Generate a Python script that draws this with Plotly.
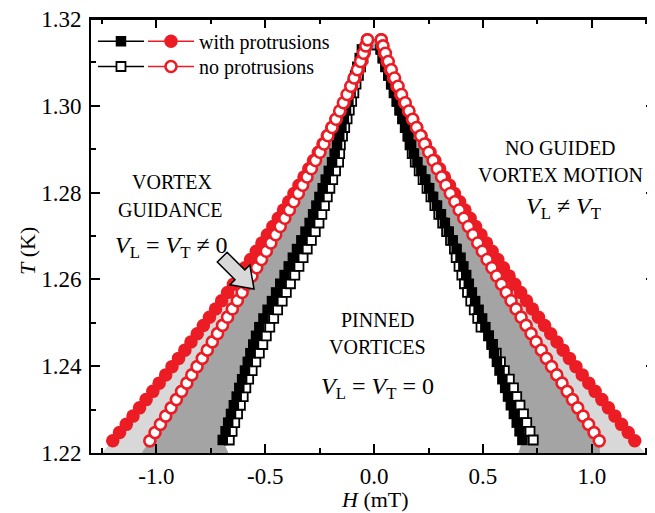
import plotly.graph_objects as go

# ---------------- data ----------------
T_red = [1.2228, 1.2247, 1.2266, 1.2285, 1.2304, 1.2323, 1.2342, 1.2361, 1.2380, 1.2399,
         1.2418, 1.2437, 1.2456, 1.2475, 1.2494, 1.2513, 1.2532, 1.2551, 1.2570, 1.2589,
         1.2608, 1.2627, 1.2646, 1.2665, 1.2684, 1.2703, 1.2722, 1.2741, 1.2760, 1.2779,
         1.2798, 1.2817, 1.2836, 1.2855, 1.2874, 1.2893, 1.2912, 1.2931, 1.2950, 1.2969,
         1.2988, 1.3007, 1.3026, 1.3045, 1.3064, 1.3083, 1.3102, 1.3121, 1.3138, 1.3152]

H_with_red_left = [-1.200, -1.169, -1.138, -1.107, -1.077, -1.047, -1.016, -0.987, -0.957, -0.928,
                   -0.898, -0.869, -0.841, -0.812, -0.784, -0.756, -0.728, -0.700, -0.673, -0.646,
                   -0.619, -0.593, -0.567, -0.541, -0.515, -0.490, -0.465, -0.440, -0.416, -0.392,
                   -0.368, -0.345, -0.322, -0.300, -0.278, -0.256, -0.235, -0.215, -0.194, -0.175,
                   -0.156, -0.138, -0.120, -0.103, -0.087, -0.072, -0.058, -0.046, -0.037, -0.031]
H_with_red_right = [1.197, 1.167, 1.136, 1.106, 1.076, 1.046, 1.015, 0.986, 0.956, 0.927,
                    0.897, 0.868, 0.840, 0.811, 0.783, 0.755, 0.727, 0.700, 0.673, 0.646,
                    0.620, 0.594, 0.568, 0.542, 0.516, 0.491, 0.466, 0.441, 0.417, 0.393,
                    0.369, 0.346, 0.323, 0.301, 0.279, 0.257, 0.236, 0.216, 0.196, 0.177,
                    0.158, 0.140, 0.122, 0.105, 0.089, 0.074, 0.060, 0.048, 0.039, 0.033]
H_no_red_left = [-1.030, -1.006, -0.981, -0.957, -0.932, -0.908, -0.884, -0.860, -0.837, -0.813,
                 -0.789, -0.766, -0.743, -0.719, -0.696, -0.673, -0.651, -0.628, -0.606, -0.583,
                 -0.561, -0.539, -0.517, -0.495, -0.474, -0.452, -0.431, -0.410, -0.389, -0.369,
                 -0.348, -0.328, -0.308, -0.288, -0.269, -0.249, -0.230, -0.212, -0.193, -0.175,
                 -0.158, -0.141, -0.124, -0.107, -0.092, -0.077, -0.062, -0.049, -0.038, -0.030]
H_no_red_right = [1.034, 1.010, 0.985, 0.960, 0.935, 0.911, 0.887, 0.863, 0.839, 0.815,
                  0.791, 0.768, 0.744, 0.721, 0.698, 0.675, 0.652, 0.629, 0.607, 0.585,
                  0.563, 0.541, 0.519, 0.497, 0.476, 0.454, 0.433, 0.412, 0.391, 0.371,
                  0.350, 0.330, 0.310, 0.290, 0.271, 0.251, 0.232, 0.214, 0.195, 0.177,
                  0.160, 0.143, 0.126, 0.110, 0.094, 0.079, 0.065, 0.052, 0.041, 0.033]

T_black = [1.223, 1.225, 1.227, 1.229, 1.231, 1.233, 1.235, 1.237, 1.239, 1.241,
           1.243, 1.245, 1.247, 1.249, 1.251, 1.253, 1.255, 1.257, 1.259, 1.261,
           1.263, 1.265, 1.267, 1.269, 1.271, 1.273, 1.275, 1.277, 1.279, 1.281,
           1.283, 1.285, 1.287, 1.289, 1.291, 1.293, 1.295, 1.297, 1.299, 1.301,
           1.303, 1.305, 1.307, 1.309, 1.311, 1.313]
H_with_blk_left = [-0.695, -0.682, -0.670, -0.657, -0.644, -0.631, -0.619, -0.606, -0.593, -0.580,
                   -0.568, -0.555, -0.542, -0.527, -0.508, -0.489, -0.469, -0.450, -0.431, -0.411,
                   -0.392, -0.373, -0.354, -0.334, -0.315, -0.296, -0.280, -0.265, -0.251, -0.236,
                   -0.222, -0.208, -0.193, -0.181, -0.170, -0.160, -0.150, -0.139, -0.129, -0.118,
                   -0.108, -0.098, -0.087, -0.077, -0.066, -0.056]
H_with_blk_right = [0.681, 0.668, 0.655, 0.642, 0.628, 0.615, 0.602, 0.589, 0.576, 0.564,
                    0.551, 0.539, 0.526, 0.511, 0.496, 0.480, 0.464, 0.449, 0.435, 0.423,
                    0.410, 0.397, 0.379, 0.361, 0.343, 0.325, 0.307, 0.289, 0.271, 0.253,
                    0.235, 0.217, 0.199, 0.183, 0.170, 0.157, 0.144, 0.131, 0.118, 0.105,
                    0.092, 0.079, 0.066, 0.053, 0.040, 0.030]
H_no_blk_left = [-0.665, -0.652, -0.640, -0.627, -0.614, -0.601, -0.589, -0.576, -0.560, -0.543,
                 -0.527, -0.511, -0.495, -0.479, -0.461, -0.443, -0.422, -0.403, -0.384, -0.364,
                 -0.345, -0.326, -0.307, -0.288, -0.270, -0.253, -0.240, -0.228, -0.215, -0.203,
                 -0.190, -0.177, -0.163, -0.158, -0.155, -0.145, -0.135, -0.124, -0.114, -0.103,
                 -0.093, -0.083, -0.072, -0.062, -0.051, -0.041]
H_no_blk_right = [0.731, 0.716, 0.701, 0.686, 0.670, 0.655, 0.640, 0.621, 0.598, 0.580,
                  0.561, 0.544, 0.526, 0.491, 0.476, 0.460, 0.444, 0.429, 0.415, 0.403,
                  0.390, 0.377, 0.369, 0.351, 0.333, 0.315, 0.297, 0.279, 0.261, 0.243,
                  0.225, 0.207, 0.189, 0.175, 0.165, 0.155, 0.143, 0.131, 0.118, 0.105,
                  0.092, 0.079, 0.066, 0.053, 0.041, 0.032]

# where the shaded regions meet T = 1.22 (left, right)
T_floor = 1.22
light_edge = [-1.250, 1.244]
dark_edge = [-1.067, 1.038]
pinned_edge = [-0.669, 0.663]

x_tickvals = [-1.0, -0.5, 0.0, 0.5, 1.0]
x_ticktext = ["-1.0", "-0.5", "0.0", "0.5", "1.0"]
x_minor = [-1.25, -0.75, -0.25, 0.25, 0.75, 1.25]
y_tickvals = [1.22, 1.24, 1.26, 1.28, 1.30, 1.32]
y_ticktext = ["1.22", "1.24", "1.26", "1.28", "1.30", "1.32"]
y_minor = [1.23, 1.25, 1.27, 1.29, 1.31]

# ---------------- styling ----------------
RED = "#ec1c24"
FONT = "Liberation Serif"


def loop(h_left, h_right, t):
    return h_left + h_right[::-1], t + t[::-1]


def region(h_left, h_right, t, edge, color):
    xs, ys = loop(h_left, h_right, t)
    return go.Scatter(x=[edge[0]] + xs + [edge[1]], y=[T_floor] + ys + [T_floor],
                      mode="lines", fill="toself", fillcolor=color,
                      line=dict(width=0), showlegend=False, hoverinfo="skip")


fig = go.Figure()
fig.add_trace(region(H_with_red_left, H_with_red_right, T_red, light_edge, "#d8d8d8"))
fig.add_trace(region(H_no_red_left, H_no_red_right, T_red, dark_edge, "#a4a4a4"))
fig.add_trace(region(H_with_blk_left, H_with_blk_right, T_black, pinned_edge, "white"))

xs, ys = loop(H_no_blk_left, H_no_blk_right, T_black)
fig.add_trace(go.Scatter(x=xs, y=ys, mode="lines+markers", name=" ", legend="legend3",
                         line=dict(color="black", width=1.5),
                         marker=dict(symbol="square", size=9, color="white",
                                     line=dict(color="black", width=1.8))))
xs, ys = loop(H_with_blk_left, H_with_blk_right, T_black)
fig.add_trace(go.Scatter(x=xs, y=ys, mode="lines+markers", name=" ", legend="legend",
                         line=dict(color="black", width=1.5),
                         marker=dict(symbol="square", size=10.5, color="black",
                                     line=dict(width=0))))
xs, ys = loop(H_with_red_left, H_with_red_right, T_red)
fig.add_trace(go.Scatter(x=xs, y=ys, mode="lines+markers", name="with protrusions",
                         legend="legend2",
                         line=dict(color=RED, width=1.5),
                         marker=dict(symbol="circle", size=13.5, color=RED,
                                     line=dict(width=0))))
xs, ys = loop(H_no_red_left, H_no_red_right, T_red)
fig.add_trace(go.Scatter(x=xs, y=ys, mode="lines+markers", name="no protrusions",
                         legend="legend4",
                         line=dict(color=RED, width=1.5),
                         marker=dict(symbol="circle", size=11, color="white",
                                     line=dict(color=RED, width=2.6))))
# carrier for the right-hand tick axis
fig.add_trace(go.Scatter(x=[], y=[], yaxis="y2", showlegend=False, hoverinfo="skip"))

tickfont = dict(family=FONT, size=23, color="black")
legfont = dict(family=FONT, size=20, color="black")


def legend_box(x, y):
    return dict(x=x, y=y, xanchor="left", yanchor="top", bgcolor="rgba(0,0,0,0)",
                borderwidth=0, font=legfont, itemwidth=46, tracegroupgap=0)


minor_ticks = dict(ticks="inside", ticklen=5, tickwidth=1.6, tickcolor="black", showgrid=False)

# the page body has an 8 px margin, so the figure is 8 px smaller than the window
fig.update_layout(
    template="none",
    width=647, height=505, autosize=False,
    margin=dict(l=83, r=0, t=11, b=60, pad=0),
    paper_bgcolor="white", plot_bgcolor="white",
    font=dict(family=FONT, color="black"),
    xaxis=dict(range=[-1.30, 1.29], tickmode="array", tickvals=x_tickvals, ticktext=x_ticktext,
               ticks="inside", ticklen=9, tickwidth=1.6, tickcolor="black",
               showline=True, linecolor="black", linewidth=1.8, mirror="ticks",
               showgrid=False, zeroline=False, tickfont=tickfont, automargin=False,
               ticklabelstandoff=1, ticklabeloverflow="allow",
               minor=dict(tickmode="array", tickvals=x_minor, **minor_ticks)),
    yaxis=dict(range=[1.22, 1.32], tickmode="array", tickvals=y_tickvals, ticktext=y_ticktext,
               ticks="inside", ticklen=9, tickwidth=1.6, tickcolor="black",
               showline=True, linecolor="black", linewidth=1.8, mirror=False,
               showgrid=False, zeroline=False, tickfont=tickfont, automargin=False,
               ticklabelstandoff=3, ticklabeloverflow="allow",
               minor=dict(tickmode="array", tickvals=y_minor, **minor_ticks)),
    yaxis2=dict(range=[1.22, 1.32], overlaying="y", side="right", anchor="x",
                tickmode="array", tickvals=y_tickvals, showticklabels=False,
                ticks="inside", ticklen=9, tickwidth=1.6, tickcolor="black",
                showline=False, showgrid=False, zeroline=False, automargin=False,
                minor=dict(tickmode="array", tickvals=y_minor, **minor_ticks)),
    legend=legend_box(0.0035, 0.9935),
    legend2=legend_box(0.0922, 0.9935),
    legend3=legend_box(0.0035, 0.9355),
    legend4=legend_box(0.0922, 0.9355),
)


def label(text, x, y, size=20, **kw):
    fig.add_annotation(text=text, x=x, y=y, xref="paper", yref="paper", showarrow=False,
                       xanchor="center", yanchor="middle",
                       font=dict(family=FONT, size=size, color="black"), **kw)


label("VORTEX", 0.1436, 0.6244)
label("GUIDANCE", 0.1401, 0.5599)
label("<i>V</i><sub>L</sub> = <i>V</i><sub>T</sub> ≠ 0", 0.1436, 0.475, size=24)
label("PINNED", 0.5071, 0.3065)
label("VORTICES", 0.5071, 0.2442)
label("<i>V</i><sub>L</sub> = <i>V</i><sub>T</sub> = 0", 0.5071, 0.150, size=24)
label("NO GUIDED", 0.8333, 0.7028)
label("VORTEX MOTION", 0.8333, 0.6406)
label("<i>V</i><sub>L</sub> ≠ <i>V</i><sub>T</sub>", 0.8369, 0.565, size=24)
label("<i>H</i> (mT)", 0.5035, -0.108, size=22)
label("<i>T</i> (K)", -0.1135, 0.4654, size=22, textangle=-90)

# top frame line
fig.add_shape(type="line", xref="paper", yref="paper", x0=0, x1=1, y0=1, y1=1,
              line=dict(color="black", width=1.8), layer="above")

# block arrow pointing at the guidance band
fig.add_shape(type="path", xref="paper", yref="paper", layer="above",
              path="M0.2890,0.3779 L0.2816,0.4332 L0.2727,0.4219 L0.2413,0.4624 "
                   "L0.2239,0.4399 L0.2553,0.3991 L0.2465,0.3876 Z",
              fillcolor="#d8d8d8", line=dict(color="black", width=1.5))

fig.write_html("out.html")
